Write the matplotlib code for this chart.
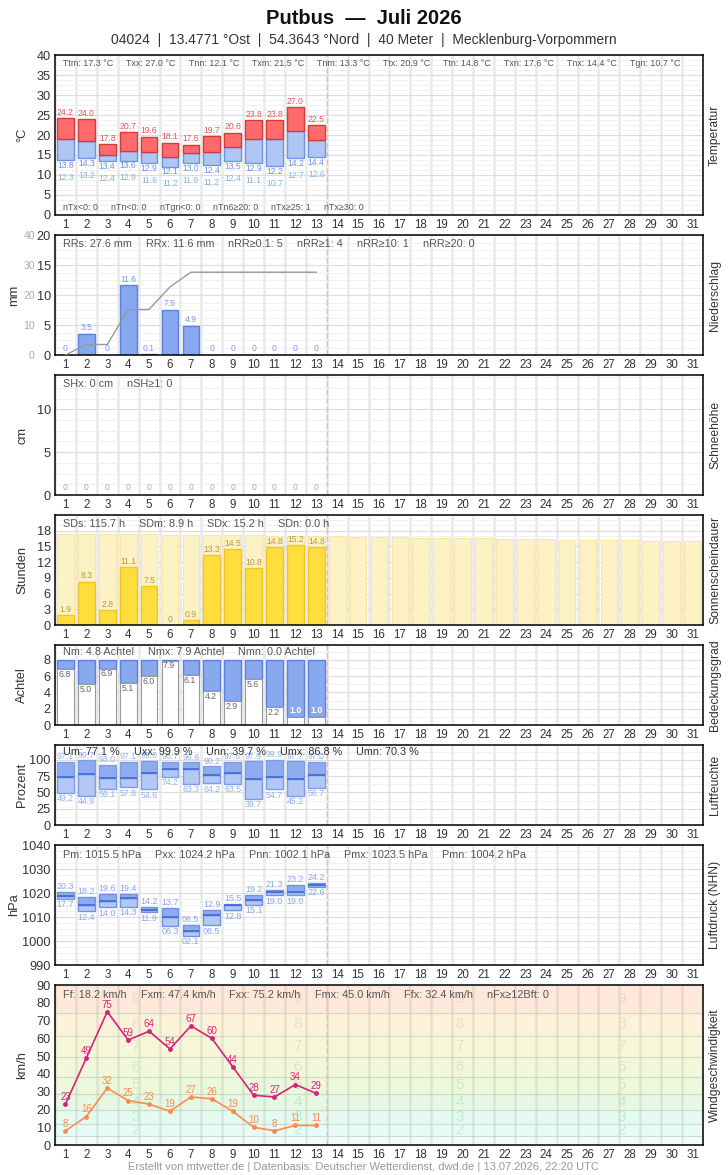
import numpy as np
import matplotlib.pyplot as plt
from matplotlib.ticker import MultipleLocator

plt.rcParams['font.family'] = ['Liberation Sans', 'DejaVu Sans']

days = np.arange(1, 32)
obs = np.arange(1, 14)

# Temperatur (Tx, Tagesmittel, Tn, Erdbodenminimum)
tx = [24.2, 24.0, 17.8, 20.7, 19.6, 18.1, 17.6, 19.7, 20.6, 23.8, 23.8, 27.0, 22.5]
tm = [18.9, 18.4, 15.1, 16.1, 15.8, 14.6, 15.4, 15.8, 16.9, 18.9, 18.9, 20.9, 18.7]
tn = [13.8, 14.3, 13.4, 13.6, 12.9, 12.1, 13.0, 12.4, 13.5, 12.9, 12.2, 14.2, 14.4]
tgn = [12.3, 13.2, 12.4, 12.9, 11.6, 11.2, 11.9, 11.2, 12.4, 11.1, 10.7, 12.7, 12.6]

# Niederschlag
rr = [0, 3.5, 0, 11.6, 0.1, 7.5, 4.9, 0, 0, 0, 0, 0, 0]
# Schneehoehe
sh = [0] * 13
# Sonnenschein und astronomisch moegliche Dauer
sd = [1.9, 8.3, 2.8, 11.1, 7.5, 0, 0.9, 13.3, 14.5, 10.8, 14.8, 15.2, 14.8]
sd_max = [17.4, 17.4, 17.3, 17.3, 17.3, 17.2, 17.2, 17.2, 17.1, 17.1, 17.0, 17.0, 16.95,
          16.9, 16.85, 16.85, 16.85, 16.7, 16.7, 16.7, 16.7, 16.5, 16.5, 16.5, 16.3,
          16.3, 16.3, 16.3, 16.1, 16.1, 16.1]
# Bedeckung
nn = [6.8, 5.0, 6.9, 5.1, 6.0, 7.9, 6.1, 4.2, 2.9, 5.6, 2.2, 1.0, 1.0]
# Luftfeuchte
u_max = [97.1, 99.7, 93.0, 97.1, 99.0, 96.7, 96.6, 90.2, 97.6, 97.9, 99.9, 97.7, 97.0]
u_mean = [74.3, 78.9, 72.8, 72.8, 80.5, 86.8, 86.5, 77.4, 80.5, 70.7, 74.3, 70.3, 76.4]
u_min = [49.2, 44.9, 56.1, 57.8, 54.6, 74.2, 63.3, 64.2, 63.5, 39.7, 54.7, 45.2, 56.7]
# Luftdruck
p_max = [1020.3, 1018.2, 1019.6, 1019.4, 1014.2, 1013.7, 1006.5, 1012.9, 1015.5, 1019.2, 1021.3, 1023.2, 1024.2]
p_mean = [1018.8, 1014.9, 1016.5, 1017.8, 1012.9, 1009.9, 1004.2, 1010.7, 1015.0, 1017.1, 1020.6, 1020.6, 1023.5]
p_min = [1017.7, 1012.4, 1014.0, 1014.3, 1011.9, 1006.3, 1002.1, 1006.5, 1012.8, 1015.1, 1019.0, 1019.0, 1022.6]
# Wind
fx = [23, 49, 75, 59, 64, 54, 67, 60, 44, 28, 27, 34, 29]
fm = [8, 16, 32, 25, 23, 19, 27, 26, 19, 10, 8, 11, 11]
bft_edges = [0, 5, 12, 19.5, 28.5, 38.5, 49.5, 61.5, 74.5, 90]
bft_colors = ['#effcfc', '#e7fbf7', '#e4f9ef', '#e6f8e3', '#ebf8dc', '#f0f8d9',
              '#f6f7d9', '#fbf2d9', '#fde8d9']
bft_text_colors = ['#c2ecdc', '#bdebd3', '#bfeac8', '#d2e8bc', '#dce6c2',
                   '#e4e4c4', '#eadfca', '#ecd8cc']

W, H = 728, 1175
fig = plt.figure(figsize=(W / 100, H / 100), dpi=100)
renderer = fig.canvas.get_renderer()


def fy(y):
    return 1 - y / H


def panel(top, bottom, ylim, yticks, minor, left_label, right_label, grid=True, label_x=22):
    ax = fig.add_axes([55 / W, fy(bottom), 648 / W, (bottom - top) / H])
    ax.set_xlim(0.5, 31.5)
    ax.set_ylim(*ylim)
    ax.set_yticks(yticks)
    ax.yaxis.set_minor_locator(MultipleLocator(minor))
    ax.set_xticks(days)
    ax.tick_params(axis='both', which='both', length=0, colors='#333')
    ax.tick_params(axis='y', labelsize=9.2, pad=3)
    ax.tick_params(axis='x', labelsize=8.3, pad=3)
    if grid:
        ax.grid(axis='y', which='major', color='#dcdcdc', lw=0.8)
        ax.grid(axis='y', which='minor', color='#efefef', lw=0.6)
        for b in np.arange(0.5, 32, 1):
            ax.axvline(b, color='#e9e9e9', lw=1.8, zorder=0.5)
    ax.set_axisbelow(True)
    ax.axvline(13.5, color='#f2b8b8', lw=1, ls=(0, (4, 2)), zorder=1)
    for s in ax.spines.values():
        s.set_linewidth(1.1)
        s.set_zorder(5)
    fig.text(label_x / W, fy((top + bottom) / 2), left_label, rotation=90, ha='center',
             va='center', fontsize=9.3, color='#333')
    fig.text(715 / W, fy((top + bottom) / 2), right_label, rotation=90, ha='center',
             va='center', fontsize=8.7, color='#333')
    return ax


def stats(items, y, size=7.8, x0=63, gap=14, color='#555'):
    x = x0
    for s in items:
        t = fig.text(x / W, fy(y), s, fontsize=size, color=color, va='center', zorder=10)
        x += t.get_window_extent(renderer).width + gap


fig.text(0.5, fy(18), 'Putbus  \u2014  Juli 2026', ha='center', va='center',
         fontsize=14.5, fontweight='bold', color='#111')
fig.text(0.5, fy(40), '04024  |  13.4771 \u00b0Ost  |  54.3643 \u00b0Nord  |  40 Meter  |  Mecklenburg-Vorpommern',
         ha='center', va='center', fontsize=10, color='#333')

# Temperatur
ax = panel(55, 215, (0, 40), np.arange(0, 41, 5), 1.25, '\u00b0C', 'Temperatur')
ax.bar(obs, np.subtract(tm, tn), 0.8, bottom=tn, color='#aec6f4', edgecolor='#6f93e3', lw=1, zorder=2)
ax.bar(obs, np.subtract(tx, tm), 0.8, bottom=tm, color='#ff6b6b', edgecolor='#d43a3a', lw=1, zorder=2)
for d, a, b, c in zip(obs, tx, tn, tgn):
    ax.text(d, a + 0.3, f'{a:.1f}', ha='center', va='bottom', fontsize=6.2, color='#e05a5a')
    ax.text(d, b - 0.2, f'{b:.1f}', ha='center', va='top', fontsize=6.2, color='#6f93e3')
    ax.text(d, b - 3.2, f'{c:.1f}', ha='center', va='top', fontsize=6.2, color='#86b6dc')
stats(['Ttm: 17.3 \u00b0C', 'Txx: 27.0 \u00b0C', 'Tnn: 12.1 \u00b0C', 'Txm: 21.5 \u00b0C',
       'Tnm: 13.3 \u00b0C', 'Ttx: 20.9 \u00b0C', 'Ttn: 14.8 \u00b0C', 'Txn: 17.6 \u00b0C',
       'Tnx: 14.4 \u00b0C', 'Tgn: 10.7 \u00b0C'], 64, size=6.4, gap=13)
stats(['nTx<0: 0', 'nTn<0: 0', 'nTgn<0: 0', 'nTn6\u226520: 0', 'nTx\u226525: 1', 'nTx\u226530: 0'],
      208, size=6.4, gap=13)

# Niederschlag
ax = panel(235, 355, (0, 20), np.arange(0, 21, 5), 1.25, 'mm', 'Niederschlag', label_x=14)
ax.bar(obs, rr, 0.8, color='#87a8ef', edgecolor='#5b80e0', lw=1, zorder=2)
for d, v in zip(obs, rr):
    ax.text(d, v + 0.3, f'{v:g}', ha='center', va='bottom', fontsize=6.2, color='#7d9be8')
ax2 = ax.twinx()
ax2.set_ylim(0, 40)
ax2.set_yticks([0, 10, 20, 30, 40])
ax2.yaxis.tick_left()
ax2.tick_params(axis='y', length=0, labelsize=7.5, colors='#aaaaaa', pad=14.5)
for s in ax2.spines.values():
    s.set_visible(False)
ax2.plot(obs, np.cumsum(rr), color='#999999', lw=1)
ax2.set_xlim(0.5, 31.5)
stats(['RRs: 27.6 mm', 'RRx: 11.6 mm', 'nRR\u22650.1: 5', 'nRR\u22651: 4', 'nRR\u226510: 1',
       'nRR\u226520: 0'], 244)

# Schneehoehe
ax = panel(375, 495, (0, 14), [0, 5, 10], 1.25, 'cm', 'Schneeh\u00f6he')
for d, v in zip(obs, sh):
    ax.text(d, v + 0.3, f'{v:g}', ha='center', va='bottom', fontsize=6.2, color='#aaaaaa')
stats(['SHx: 0 cm', 'nSH\u22651: 0'], 384)

# Sonnenscheindauer
ax = panel(515, 625, (0, 21), np.arange(0, 19, 3), 1, 'Stunden', 'Sonnenscheindauer')
ax.bar(days, sd_max, 0.8, color='#fdf2c4', edgecolor='#fbe7a4', lw=0.8, zorder=1.5)
ax.bar(obs, sd, 0.8, color='#ffdd3c', edgecolor='#f4c520', lw=1, zorder=2)
for d, v in zip(obs, sd):
    ax.text(d, v + 0.2, f'{v:g}', ha='center', va='bottom', fontsize=6.2, color='#b89a3c')
stats(['SDs: 115.7 h', 'SDm: 8.9 h', 'SDx: 15.2 h', 'SDn: 0.0 h'], 524)

# Bedeckungsgrad
ax = panel(645, 725, (0, 9.8), np.arange(0, 9, 2), 1, 'Achtel', 'Bedeckungsgrad')
ax.bar(obs, 8 - np.array(nn), 0.8, bottom=nn, color='#89a9ef', edgecolor='#5b80e0', lw=1, zorder=2)
ax.bar(obs, nn, 0.8, color='white', edgecolor='#999999', lw=0.8, zorder=2)
for d, v in zip(obs, nn):
    if v < 2:
        ax.text(d, v + 0.75, f'{v:.1f}', ha='center', va='center', fontsize=6.3,
                color='white', fontweight='bold', zorder=3)
    else:
        ax.text(d - 0.33, v - 0.1, f'{v:.1f}', ha='left', va='top', fontsize=6.3,
                color='#666', zorder=3)
stats(['Nm: 4.8 Achtel', 'Nmx: 7.9 Achtel', 'Nmn: 0.0 Achtel'], 652)

# Luftfeuchte
ax = panel(745, 825, (0, 123), np.arange(0, 101, 25), 12.5, 'Prozent', 'Luftfeuchte')
ax.bar(obs, np.subtract(u_mean, u_min), 0.8, bottom=u_min, color='#b3c8f4',
       edgecolor='#7c9de6', lw=1, zorder=2)
ax.bar(obs, np.subtract(u_max, u_mean), 0.8, bottom=u_mean, color='#8eabef',
       edgecolor='#7c9de6', lw=1, zorder=2)
ax.hlines(u_mean, obs - 0.4, obs + 0.4, color='#3f6ad6', lw=1.2, zorder=3)
for d, a, b in zip(obs, u_max, u_min):
    ax.text(d, a + 1, f'{a:.1f}', ha='center', va='bottom', fontsize=6.3, color='#93aeee')
    ax.text(d, b - 2, f'{b:.1f}', ha='center', va='top', fontsize=6.3, color='#93aeee')
stats(['Um: 77.1 %', 'Uxx: 99.9 %', 'Unn: 39.7 %', 'Umx: 86.8 %', 'Umn: 70.3 %'], 752,
      color='#333')

# Luftdruck
ax = panel(845, 965, (990, 1040), np.arange(990, 1041, 10), 2.5, 'hPa', 'Luftdruck (NHN)',
           label_x=14)
ax.bar(obs, np.subtract(p_mean, p_min), 0.8, bottom=p_min, color='#b3c8f4',
       edgecolor='#6f93e3', lw=1, zorder=2)
ax.bar(obs, np.subtract(p_max, p_mean), 0.8, bottom=p_mean, color='#8eabef',
       edgecolor='#6f93e3', lw=1, zorder=2)
ax.hlines(p_mean, obs - 0.4, obs + 0.4, color='#3f6ad6', lw=1.2, zorder=3)
for d, a, b in zip(obs, p_max, p_min):
    ax.text(d, a + 0.4, f'{a % 100:04.1f}', ha='center', va='bottom', fontsize=6.4, color='#8aa6ec')
    ax.text(d, b - 0.6, f'{b % 100:04.1f}', ha='center', va='top', fontsize=6.4, color='#8aa6ec')
stats(['Pm: 1015.5 hPa', 'Pxx: 1024.2 hPa', 'Pnn: 1002.1 hPa', 'Pmx: 1023.5 hPa',
       'Pmn: 1004.2 hPa'], 855)

# Windgeschwindigkeit
ax = panel(985, 1145, (0, 90), np.arange(0, 91, 10), 5, 'km/h', 'Windgeschwindigkeit', grid=False)
for i, c in enumerate(bft_colors):
    ax.axhspan(bft_edges[i], bft_edges[i + 1], color=c, lw=0, zorder=0)
for e in bft_edges[1:-1]:
    ax.axhline(e, color='#b8c8b0', lw=0.8, alpha=0.6, zorder=0.6)
for b in np.arange(0.5, 32, 1):
    ax.axvline(b, color='#000000', alpha=0.07, lw=1.8, zorder=0.5)
for i in range(1, 9):
    yc = (bft_edges[i] + bft_edges[i + 1]) / 2
    for xc in [4.35, 12.1, 19.85, 27.6]:
        ax.text(xc, yc, str(i + 1), ha='center', va='center', fontsize=11,
                color=bft_text_colors[i - 1], zorder=0.7)
ax.plot(obs, fx, color='#d6237a', lw=1.2, marker='o', ms=2.5, zorder=3)
ax.plot(obs, fm, color='#ff8a50', lw=1.2, marker='o', ms=2.5, zorder=3)
for d, a, b in zip(obs, fx, fm):
    ax.text(d, a + 1.2, str(a), ha='center', va='bottom', fontsize=7, color='#d6237a', zorder=4)
    ax.text(d, b + 1.2, str(b), ha='center', va='bottom', fontsize=7, color='#ff8a50', zorder=4)
stats(['Ff: 18.2 km/h', 'Fxm: 47.4 km/h', 'Fxx: 75.2 km/h', 'Fmx: 45.0 km/h',
       'Ffx: 32.4 km/h', 'nFx\u226512Bft: 0'], 995)

fig.text(0.5, fy(1167), 'Erstellt von mtwetter.de | Datenbasis: Deutscher Wetterdienst, dwd.de | 13.07.2026, 22:20 UTC',
         ha='center', va='center', fontsize=8, color='#999')

fig.savefig('out.png', dpi=100)
